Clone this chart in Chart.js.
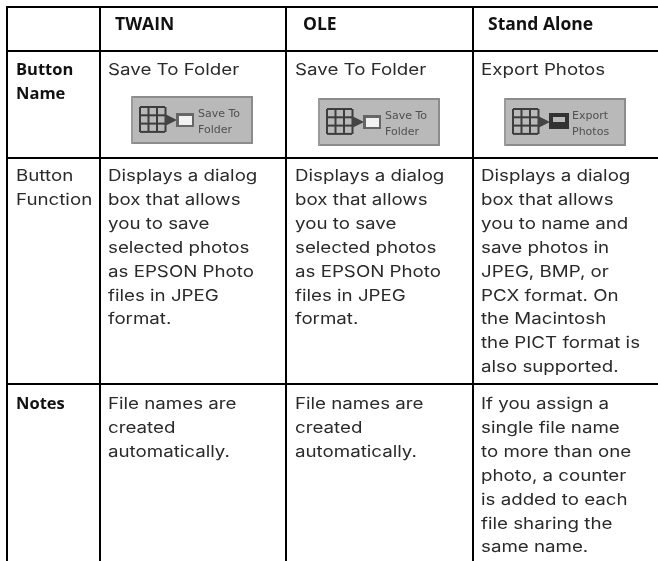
<!DOCTYPE html>
<html>
<head>
<meta charset="utf-8">
<style>
  html, body { margin: 0; padding: 0; background: #fff; }
  #wrap { width: 658px; height: 561px; }
</style>
<script src="https://cdn.jsdelivr.net/npm/chart.js@4"></script>
</head>
<body>
<div id="wrap"><canvas id="myChart" width="658" height="561"></canvas></div>
<script>
// table content
const headers = ["TWAIN", "OLE", "Stand Alone"];
const rowNames = [["Button", "Name"], ["Button", "Function"], ["Notes"]];
const buttonNames = ["Save To Folder", "Save To Folder", "Export Photos"];
const buttonFaces = [["Save To", "Folder"], ["Save To", "Folder"], ["Export", "Photos"]];
const functionText = [
  ["Displays a dialog", "box that allows", "you to save", "selected photos", "as EPSON Photo", "files in JPEG", "format."],
  ["Displays a dialog", "box that allows", "you to save", "selected photos", "as EPSON Photo", "files in JPEG", "format."],
  ["Displays a dialog", "box that allows", "you to name and", "save photos in", "JPEG, BMP, or", "PCX format. On", "the Macintosh", "the PICT format is", "also supported."]
];
const notesText = [
  ["File names are", "created", "automatically."],
  ["File names are", "created", "automatically."],
  ["If you assign a", "single file name", "to more than one", "photo, a counter", "is added to each", "file sharing the", "same name."]
];

// table geometry, in scale units
const columnEdges = [7, 100, 286, 473];
const rowEdges = [7, 51, 158, 384];
const headerX = [115, 303, 488];
const textX = [108, 295, 481];
const buttonX = [131, 318, 504];
const buttonY = [96, 98, 98];
const bodyFont = '16px "Inter", sans-serif';
const headerFont = 'bold 17px "Open Sans", sans-serif';
const labelFont = 'bold 16.5px "Open Sans", sans-serif';
const bodyStretch = 1.17; // the original face is much wider than anything installed
const lineGap = 23.9;

const tablePlugin = {
  id: 'tablePlugin',
  afterDraw(chart) {
    const { ctx, scales: { x, y } } = chart;
    const text = (str, px, py, font, color, stretch = 1) => {
      ctx.save();
      ctx.font = font;
      ctx.fillStyle = color;
      ctx.textBaseline = 'alphabetic';
      ctx.translate(x.getPixelForValue(px), y.getPixelForValue(py));
      ctx.scale(stretch, 1);
      ctx.fillText(str, 0, 0);
      ctx.restore();
    };
    const block = (lines, px, py, font, color, stretch) => {
      lines.forEach((line, i) => text(line, px, py + i * lineGap, font, color, stretch));
    };

    headers.forEach((h, i) => text(h, headerX[i], 30, headerFont, '#111', 1.03));
    block(rowNames[0], 16, 75, labelFont, '#111');
    block(rowNames[1], 16, 181, bodyFont, '#2a2a2a', bodyStretch);
    block(rowNames[2], 16, 409, labelFont, '#111');

    buttonNames.forEach((name, i) => {
      text(name, textX[i], 75, bodyFont, '#2a2a2a', bodyStretch);
      drawButton(ctx, x.getPixelForValue(buttonX[i]), y.getPixelForValue(buttonY[i]), i);
      block(functionText[i], textX[i], 181, bodyFont, '#2a2a2a', bodyStretch);
      block(notesText[i], textX[i], 409, bodyFont, '#2a2a2a', bodyStretch);
    });
  }
};

// blurry screenshot of the toolbar button
function drawButton(ctx, left, top, i) {
  ctx.save();
  ctx.filter = 'blur(0.6px)';
  ctx.fillStyle = '#b9b9b9';
  ctx.fillRect(left, top, 122, 48);
  ctx.fillStyle = '#8c8c8c';
  ctx.fillRect(left, top, 122, 2);
  ctx.fillRect(left, top + 46, 122, 2);
  ctx.fillRect(left + 120, top, 2, 48);
  ctx.fillStyle = '#9a9a9a';
  ctx.fillRect(left, top, 2, 48);

  ctx.strokeStyle = '#3d3d3d';
  ctx.lineWidth = 2;
  for (let k = 0; k <= 3; k++) {
    ctx.beginPath(); ctx.moveTo(left + 9 + k * 8.5, top + 11); ctx.lineTo(left + 9 + k * 8.5, top + 36); ctx.stroke();
    ctx.beginPath(); ctx.moveTo(left + 9, top + 11 + k * 8.3); ctx.lineTo(left + 34, top + 11 + k * 8.3); ctx.stroke();
  }
  ctx.fillStyle = '#444';
  ctx.beginPath();
  ctx.moveTo(left + 34, top + 18);
  ctx.lineTo(left + 46, top + 24);
  ctx.lineTo(left + 34, top + 30);
  ctx.fill();

  if (i === 2) {
    ctx.fillStyle = '#333';
    ctx.fillRect(left + 45, top + 15, 20, 16);
    ctx.fillStyle = '#b9b9b9';
    ctx.fillRect(left + 49, top + 19, 12, 5);
  } else {
    ctx.fillStyle = '#666';
    ctx.fillRect(left + 45, top + 17, 18, 14);
    ctx.fillStyle = '#f2f2f2';
    ctx.fillRect(left + 48, top + 20, 13, 9);
  }

  ctx.font = '11px "DejaVu Sans", sans-serif';
  ctx.fillStyle = '#505050';
  ctx.textBaseline = 'alphabetic';
  const faceX = i === 2 ? left + 68 : left + 67;
  ctx.fillText(buttonFaces[i][0], faceX, top + 21);
  ctx.fillText(buttonFaces[i][1], faceX, top + 37);
  ctx.restore();
}

const ctx1 = document.getElementById('myChart');
new Chart(ctx1, {
  type: 'scatter',
  data: { datasets: [{ data: [] }] },
  options: {
    responsive: false,
    animation: false,
    layout: { padding: { left: 6, top: 6 } },
    plugins: { legend: { display: false }, tooltip: { enabled: false } },
    scales: {
      x: {
        type: 'linear', min: 6, max: 658, display: true,
        afterBuildTicks: (axis) => { axis.ticks = columnEdges.map(value => ({ value })); },
        ticks: { display: false },
        border: { display: false },
        grid: { color: '#000', lineWidth: 2, drawTicks: false }
      },
      y: {
        type: 'linear', min: 6, max: 561, reverse: true, display: true,
        afterBuildTicks: (axis) => { axis.ticks = rowEdges.map(value => ({ value })); },
        ticks: { display: false },
        border: { display: false },
        grid: { color: '#000', lineWidth: 2, drawTicks: false }
      }
    }
  },
  plugins: [tablePlugin]
});
</script>
</body>
</html>
